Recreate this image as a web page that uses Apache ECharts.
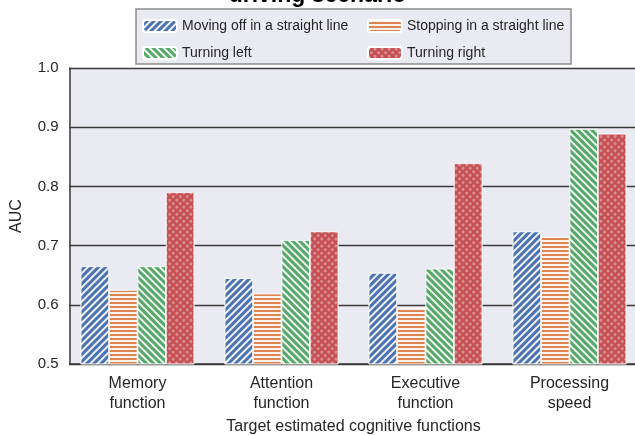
<!DOCTYPE html>
<html lang="en">
<head>
    <meta charset="UTF-8">
    <title>AUC by driving scenario</title>
    <script src="https://cdn.jsdelivr.net/npm/echarts@6/dist/echarts.min.js"></script>
    <style>
        html, body { margin: 0; padding: 0; background: #fff; }
    </style>
</head>
<body>
<div id="chart" style="width:635px;height:435px;"></div>
<script>
    var categories = ['Memory\nfunction', 'Attention\nfunction', 'Executive\nfunction', 'Processing\nspeed'];
    var seriesNames = ['Moving off in a straight line', 'Stopping in a straight line', 'Turning left', 'Turning right'];
    var movingOff = [0.665, 0.645, 0.654, 0.724];
    var stopping = [0.625, 0.619, 0.596, 0.715];
    var turningLeft = [0.665, 0.709, 0.661, 0.897];
    var turningRight = [0.790, 0.724, 0.839, 0.889];
    var yTicks = [0.5, 0.6, 0.7, 0.8, 0.9, 1.0];

    var colors = ['#4c72b0', '#dd8452', '#55a868', '#c44e52'];
    var decals = [
        {symbol: 'rect', color: 'rgba(255,255,255,0.9)', dashArrayX: [1, 0], dashArrayY: [2, 3], rotation: -Math.PI / 4},
        {symbol: 'rect', color: 'rgba(255,255,255,0.9)', dashArrayX: [1, 0], dashArrayY: [2, 2], rotation: 0},
        {symbol: 'rect', color: 'rgba(255,255,255,0.9)', dashArrayX: [1, 0], dashArrayY: [2, 3], rotation: Math.PI / 4},
        {symbol: 'circle', color: 'rgba(255,255,255,0.4)', dashArrayX: [3, 2], dashArrayY: [3, 2], rotation: Math.PI / 4}
    ];
    var values = [movingOff, stopping, turningLeft, turningRight];

    var series = [];
    for (var i = 0; i < values.length; i++) {
        series.push({
            name: seriesNames[i],
            type: 'bar',
            data: values[i],
            barGap: '0%',
            barCategoryGap: '21%',
            itemStyle: {
                color: colors[i],
                borderColor: '#fff',
                borderWidth: 0.6,
                decal: decals[i]
            }
        });
    }

    var textColor = '#262626';
    var lineColor = '#3a3a3a';
    var legendText = {fontFamily: 'Liberation Sans', fontSize: 14, color: textColor};

    var myChart = echarts.init(document.getElementById('chart'));
    var option = {
        animation: false,
        title: {
            text: 'driving scenario',
            left: 'center',
            top: -21,
            textStyle: {fontFamily: 'Liberation Sans', fontSize: 23, fontWeight: 'bold', color: '#000'}
        },
        graphic: [
            {type: 'rect', z: -1, shape: {x: 136, y: 9, width: 435, height: 55},
                style: {fill: '#eaeaf2', stroke: '#8c8c8c', lineWidth: 1.5}},
            {type: 'rect', z: 5, shape: {x: 64, y: 66, width: 5, height: 300},
                style: {fill: '#fff'}}
        ],
        legend: [
            {
                data: [seriesNames[0], seriesNames[2]],
                orient: 'vertical',
                left: 142,
                top: 19,
                padding: 0,
                itemWidth: 34,
                itemHeight: 12,
                itemGap: 13,
                textStyle: legendText
            },
            {
                data: [seriesNames[1], seriesNames[3]],
                orient: 'vertical',
                left: 367,
                top: 19,
                padding: 0,
                itemWidth: 34,
                itemHeight: 12,
                itemGap: 13,
                textStyle: legendText
            }
        ],
        grid: {
            left: 65.5,
            top: 68,
            width: 576,
            height: 296,
            outerBoundsMode: 'none',
            show: true,
            backgroundColor: '#eaeaf2',
            borderWidth: 0
        },
        xAxis: {
            type: 'category',
            data: categories,
            name: 'Target estimated cognitive functions',
            nameLocation: 'middle',
            nameGap: 53,
            nameTextStyle: {fontFamily: 'Liberation Sans', fontSize: 16, color: textColor},
            axisLine: {lineStyle: {color: lineColor, width: 1.5}},
            axisTick: {show: false},
            axisLabel: {fontFamily: 'Liberation Sans', fontSize: 16, color: textColor, lineHeight: 20, margin: 10}
        },
        yAxis: {
            type: 'value',
            min: yTicks[0],
            max: yTicks[yTicks.length - 1],
            interval: 0.1,
            offset: -4,
            name: 'AUC',
            nameLocation: 'middle',
            nameGap: 45,
            nameTextStyle: {fontFamily: 'Liberation Sans', fontSize: 16, color: textColor},
            axisLine: {show: true, lineStyle: {color: lineColor, width: 1.5}},
            axisTick: {show: false},
            axisLabel: {
                fontFamily: 'Liberation Sans', fontSize: 15, color: textColor, margin: 11,
                formatter: function (v) { return v.toFixed(1); }
            },
            splitLine: {show: true, lineStyle: {color: lineColor, width: 1.3}}
        },
        series: series
    };
    myChart.setOption(option);
</script>
</body>
</html>
